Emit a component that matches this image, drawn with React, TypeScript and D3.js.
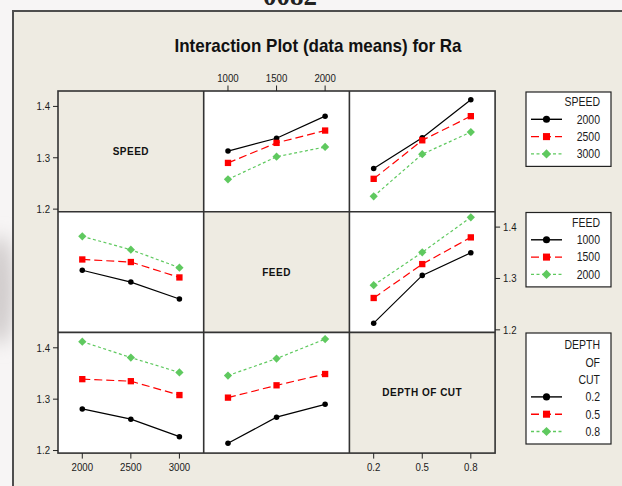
import React from 'react';
import * as d3 from 'd3';

// factor levels
const speedLevels = [2000, 2500, 3000];
const feedLevels = [1000, 1500, 2000];
const depthLevels = [0.2, 0.5, 0.8];
const depthLabels = ['0.2', '0.5', '0.8'];
const yTicks = [1.2, 1.3, 1.4];

// mean Ra, one row per trace level, one column per x level
const speedVsFeed = [
  [1.313, 1.338, 1.381],
  [1.290, 1.329, 1.353],
  [1.258, 1.302, 1.321],
];
const speedVsDepth = [
  [1.279, 1.339, 1.413],
  [1.259, 1.334, 1.381],
  [1.225, 1.307, 1.350],
];
const feedVsSpeed = [
  [1.316, 1.293, 1.260],
  [1.337, 1.332, 1.302],
  [1.382, 1.356, 1.321],
];
const feedVsDepth = [
  [1.213, 1.306, 1.350],
  [1.262, 1.328, 1.380],
  [1.287, 1.351, 1.419],
];
const depthVsSpeed = [
  [1.281, 1.261, 1.227],
  [1.339, 1.335, 1.308],
  [1.412, 1.381, 1.352],
];
const depthVsFeed = [
  [1.214, 1.265, 1.290],
  [1.303, 1.327, 1.349],
  [1.346, 1.379, 1.417],
];

const factors = [
  { name: 'SPEED', title: ['SPEED'], levels: speedLevels.map(String) },
  { name: 'FEED', title: ['FEED'], levels: feedLevels.map(String) },
  { name: 'DEPTH OF CUT', title: ['DEPTH', 'OF', 'CUT'], levels: depthLabels },
];

const panels = [
  [null, speedVsFeed, speedVsDepth],
  [feedVsSpeed, null, feedVsDepth],
  [depthVsSpeed, depthVsFeed, null],
];

const styles = [
  { color: '#000000', dash: null, symbol: d3.symbolCircle, size: 24, lsize: 40, rot: 0 },
  { color: '#ff0000', dash: '8,4', symbol: d3.symbolSquare, size: 40, lsize: 50, rot: 0 },
  { color: '#5fc95f', dash: '3,2.5', symbol: d3.symbolSquare, size: 34, lsize: 42, rot: 45 },
];

const W = 622;
const H = 486;
const gridLeft = 58;
const gridTop = 91;
const cellW = 145.7;
const cellH = 120.7;
const bg = '#eeebe2';
const tickFont = '"Liberation Sans", Arial, sans-serif';
const squeeze = 0.84; // labels in the picture use a narrow face

const x = d3.scalePoint<number>().domain([0, 1, 2]).range([0, cellW]).padding(0.5);
const y = d3.scaleLinear().domain([1.195, 1.43]).range([cellH, 0]);

// narrow text: squeeze horizontally around its anchor point
const NText = ({ x: tx, y: ty, anchor, size, children }:
  { x: number; y: number; anchor: string; size: number; children: React.ReactNode }) => (
  <g transform={`translate(${tx},${ty}) scale(${squeeze},1)`}>
    <text textAnchor={anchor} fontFamily={tickFont} fontSize={size} fill="#1a1a1a">{children}</text>
  </g>
);

const Panel = ({ row, col }: { row: number; col: number }) => {
  const px = gridLeft + col * cellW;
  const py = gridTop + row * cellH;
  const data = panels[row][col];
  if (!data) {
    return (
      <g transform={`translate(${px},${py})`}>
        <rect width={cellW} height={cellH} fill={bg} />
        <text x={cellW / 2} y={cellH / 2 + 3.5} textAnchor="middle" fontFamily="Liberation Sans, sans-serif"
          fontWeight="bold" fontSize={10} letterSpacing={0.5} fill="#111">{factors[row].name}</text>
      </g>
    );
  }
  const line = d3.line<number>().x((_, i) => x(i) as number).y(v => y(v));
  return (
    <g transform={`translate(${px},${py})`}>
      <rect width={cellW} height={cellH} fill="#ffffff" />
      {data.map((vals, s) => (
        <g key={s}>
          <path d={line(vals) || ''} fill="none" stroke={styles[s].color} strokeWidth={1.2}
            strokeDasharray={styles[s].dash || undefined} />
          {vals.map((v, i) => (
            <path key={i} d={d3.symbol().type(styles[s].symbol).size(styles[s].size)() || ''}
              transform={`translate(${x(i)},${y(v)}) rotate(${styles[s].rot})`} fill={styles[s].color} />
          ))}
        </g>
      ))}
    </g>
  );
};

const Legend = ({ idx, top }: { idx: number; top: number }) => {
  const f = factors[idx];
  const left = 526;
  const right = 611;
  const start = f.title.length === 1 ? 10 : 12;
  const step = 17.3;
  const rowY = (k: number) => start + step * k;
  const h = rowY(f.title.length + 2) + 12.5;
  return (
    <g transform={`translate(${left},${top})`}>
      <rect width={right - left} height={h} fill="#ffffff" stroke="#222" strokeWidth={1.2} />
      {f.title.map((t, k) => (
        <NText key={t} x={74} y={rowY(k) + 4.3} anchor="end" size={12.5}>{t}</NText>
      ))}
      {f.levels.map((lv, j) => {
        const cy = rowY(f.title.length + j);
        const st = styles[j];
        return (
          <g key={lv}>
            <line x1={5} x2={36} y1={cy} y2={cy} stroke={st.color} strokeWidth={1.4}
              strokeDasharray={st.dash || undefined} />
            <path d={d3.symbol().type(st.symbol).size(st.lsize)() || ''}
              transform={`translate(${20.5},${cy}) rotate(${st.rot})`} fill={st.color} />
            <NText x={74} y={cy + 4.3} anchor="end" size={12.5}>{lv}</NText>
          </g>
        );
      })}
    </g>
  );
};

const YAxis = ({ row, side }: { row: number; side: 'left' | 'right' }) => {
  const py = gridTop + row * cellH;
  const ax = side === 'left' ? gridLeft : gridLeft + 3 * cellW;
  const dir = side === 'left' ? -1 : 1;
  return (
    <g transform={`translate(${ax},${py})`}>
      {yTicks.map(t => (
        <g key={t} transform={`translate(0,${y(t)})`}>
          <line x1={0} x2={dir * 5} stroke="#222" strokeWidth={1} />
          <NText x={dir * 8} y={3.9} anchor={side === 'left' ? 'end' : 'start'} size={11.5}>{t.toFixed(1)}</NText>
        </g>
      ))}
    </g>
  );
};

const XAxis = ({ col, side }: { col: number; side: 'top' | 'bottom' }) => {
  const px = gridLeft + col * cellW;
  const ay = side === 'top' ? gridTop : gridTop + 3 * cellH;
  const dir = side === 'top' ? -1 : 1;
  return (
    <g transform={`translate(${px},${ay})`}>
      {factors[col].levels.map((lv, i) => (
        <g key={lv} transform={`translate(${x(i)},0)`}>
          <line y1={0} y2={dir * 5.5} stroke="#222" strokeWidth={1} />
          <NText x={0} y={side === 'top' ? -9 : 18} anchor="middle" size={11.5}>{lv}</NText>
        </g>
      ))}
    </g>
  );
};

export default function App() {
  const idx = [0, 1, 2];
  return (
    <svg width={W} height={H} style={{ position: 'absolute', left: 0, top: 0 }}>
      <defs>
        <filter id="blur" x="-50%" y="-50%" width="200%" height="200%">
          <feGaussianBlur stdDeviation="9" />
        </filter>
      </defs>
      <rect width={W} height={H} fill="#f7f5f5" />
      <ellipse cx={0} cy={290} rx={14} ry={55} fill="#cfcaca" filter="url(#blur)" />
      <text x={290} y={5} textAnchor="middle" fontFamily="Liberation Serif, serif" fontWeight="bold"
        fontSize={27} fill="#222">0082</text>
      <rect x={13} y={11} width={W} height={H} fill={bg} stroke="#4e4e4e" strokeWidth={2} />
      <text x={318} y={52} textAnchor="middle" fontFamily="Liberation Sans, sans-serif" fontWeight="bold" fontSize={19}
        textLength={287} lengthAdjust="spacingAndGlyphs" fill="#111">Interaction Plot (data means) for Ra</text>
      {idx.map(r => idx.map(c => <Panel key={`${r}-${c}`} row={r} col={c} />))}
      <rect x={gridLeft} y={gridTop} width={3 * cellW} height={3 * cellH} fill="none" stroke="#333" strokeWidth={1.6} />
      {[1, 2].map(k => (
        <g key={k}>
          <line x1={gridLeft + k * cellW} x2={gridLeft + k * cellW} y1={gridTop} y2={gridTop + 3 * cellH}
            stroke="#333" strokeWidth={1.6} />
          <line y1={gridTop + k * cellH} y2={gridTop + k * cellH} x1={gridLeft} x2={gridLeft + 3 * cellW}
            stroke="#333" strokeWidth={1.6} />
        </g>
      ))}
      <YAxis row={0} side="left" />
      <YAxis row={2} side="left" />
      <YAxis row={1} side="right" />
      <XAxis col={1} side="top" />
      <XAxis col={0} side="bottom" />
      <XAxis col={2} side="bottom" />
      <Legend idx={0} top={92} />
      <Legend idx={1} top={212.5} />
      <Legend idx={2} top={333} />
    </svg>
  );
}
